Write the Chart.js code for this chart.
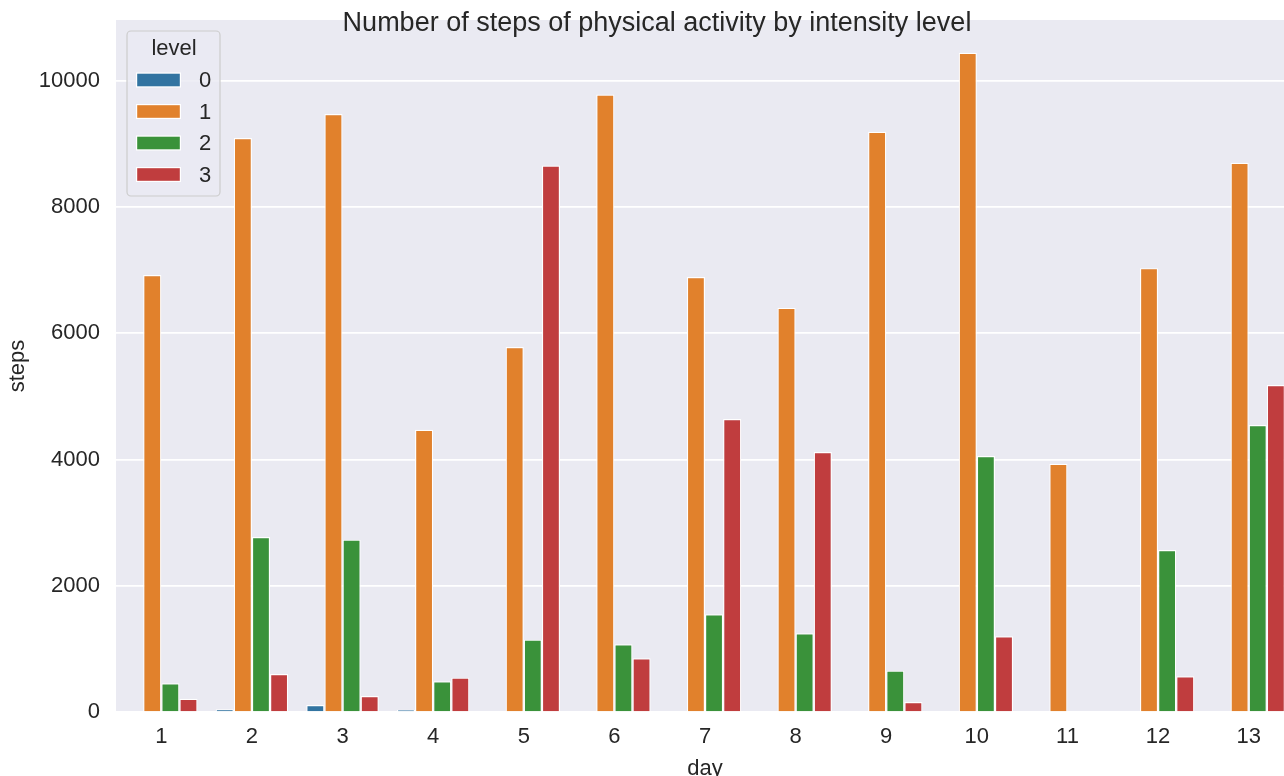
<!DOCTYPE html>
<html>
<head>
<meta charset="utf-8">
<script src="https://cdn.jsdelivr.net/npm/chart.js@4.4.1/dist/chart.umd.min.js"></script>
<style>
  html, body { margin: 0; padding: 0; background: #ffffff; overflow: hidden; }
  #wrap { width: 1300px; height: 790px; }
</style>
</head>
<body>
<div id="wrap"><canvas id="chart" width="1300" height="790"></canvas></div>
<script>
// ── DATA ──
const days   = ['1', '2', '3', '4', '5', '6', '7', '8', '9', '10', '11', '12', '13'];
const levels = ['0', '1', '2', '3'];
const level0 = [null, 42, 111, 37, null, null, null, null, null, null, null, null, null];
const level1 = [6920, 9090, 9470, 4470, 5780, 9780, 6890, 6400, 9190, 10440, 3930, 7030, 8700];
const level2 = [455, 2770, 2730, 486, 1146, 1072, 1547, 1246, 655, 4055, null, 2566, 4546];
const level3 = [211, 602, 253, 544, 8655, 850, 4641, 4118, 158, 1199, null, 565, 5180];
const yTicks = [0, 2000, 4000, 6000, 8000, 10000];
const Y_MAX  = 10960;

// ── DESIGN TOKENS ──
const C = {
  l0: '#3274a1',
  l1: '#e1812c',
  l2: '#3a923a',
  l3: '#c03d3e',
  bg: '#eaeaf2',
  grid: '#ffffff',
  text: '#262626',
};
const FONT = "'Liberation Sans', Arial, sans-serif";

// ── PLOT BACKGROUND + TITLE + LEGEND ──
const seabornPlugin = {
  id: 'seabornPlugin',
  beforeDraw(chart) {
    const { ctx, chartArea: { left, right, top, bottom } } = chart;
    ctx.save();
    ctx.fillStyle = C.bg;
    ctx.fillRect(left, top, right - left, bottom - top);
    ctx.restore();
  },
  afterDraw(chart) {
    const { ctx } = chart;
    ctx.save();

    // title
    ctx.fillStyle = C.text;
    ctx.font = `27px ${FONT}`;
    ctx.textAlign = 'center';
    ctx.textBaseline = 'alphabetic';
    ctx.fillText('Number of steps of physical activity by intensity level', 657, 31);

    // legend box
    const bx = 127, by = 31, bw = 93, bh = 165;
    ctx.fillStyle = 'rgba(234,234,242,0.8)';
    ctx.strokeStyle = '#cccccc';
    ctx.lineWidth = 1.2;
    ctx.beginPath();
    ctx.roundRect(bx, by, bw, bh, 4);
    ctx.fill();
    ctx.stroke();

    ctx.fillStyle = C.text;
    ctx.font = `22px ${FONT}`;
    ctx.textAlign = 'center';
    ctx.textBaseline = 'middle';
    ctx.fillText('level', 174, 49);

    chart.data.datasets.forEach((ds, i) => {
      const cy = 80 + i * 31.5;
      ctx.fillStyle = '#ffffff';
      ctx.fillRect(136, cy - 7.5, 45, 15);
      ctx.fillStyle = ds.backgroundColor;
      ctx.fillRect(137.2, cy - 6.3, 42.6, 12.6);
      ctx.fillStyle = C.text;
      ctx.textAlign = 'center';
      ctx.fillText(ds.label, 205, cy + 1);
    });

    ctx.restore();
  }
};

Chart.register(seabornPlugin);

// ── INIT CHART ──
const series = [level0, level1, level2, level3];
const colors = [C.l0, C.l1, C.l2, C.l3];

new Chart(document.getElementById('chart').getContext('2d'), {
  type: 'bar',
  data: {
    labels: days,
    datasets: series.map((values, i) => ({
      label: levels[i],
      data: values,
      backgroundColor: colors[i],
      borderColor: '#ffffff',
      borderWidth: 1.2,
      borderSkipped: 'start',
      categoryPercentage: 0.8,
      barPercentage: 1.0,
    }))
  },
  options: {
    responsive: false,
    animation: false,
    layout: { padding: { top: 20, right: 6, left: 0, bottom: 0 } },
    plugins: {
      legend: { display: false },
      title: { display: false },
      tooltip: { enabled: false }
    },
    scales: {
      x: {
        afterFit: s => { s.height = 78; s.paddingLeft = 0; s.paddingRight = 0; },
        grid: { display: false, drawTicks: false },
        border: { display: false },
        ticks: {
          color: C.text,
          font: { family: FONT, size: 22 },
          padding: 12,
          maxRotation: 0
        },
        title: {
          display: true,
          text: 'day',
          color: C.text,
          font: { family: FONT, size: 22 },
          padding: { top: 0, bottom: 8 }
        }
      },
      y: {
        min: 0,
        max: Y_MAX,
        afterFit: s => { s.width = 116; s.paddingTop = 0; s.paddingBottom = 0; },
        afterBuildTicks: s => { s.ticks = yTicks.map(v => ({ value: v })); },
        grid: { color: C.grid, lineWidth: 1.7, drawTicks: false },
        border: { display: false },
        ticks: {
          color: C.text,
          font: { family: FONT, size: 22 },
          padding: 16,
          includeBounds: false,
          callback: v => String(v)
        },
        title: {
          display: true,
          text: 'steps',
          color: C.text,
          font: { family: FONT, size: 22 },
          padding: { top: 5, bottom: 0 }
        }
      }
    }
  }
});
</script>
</body>
</html>
